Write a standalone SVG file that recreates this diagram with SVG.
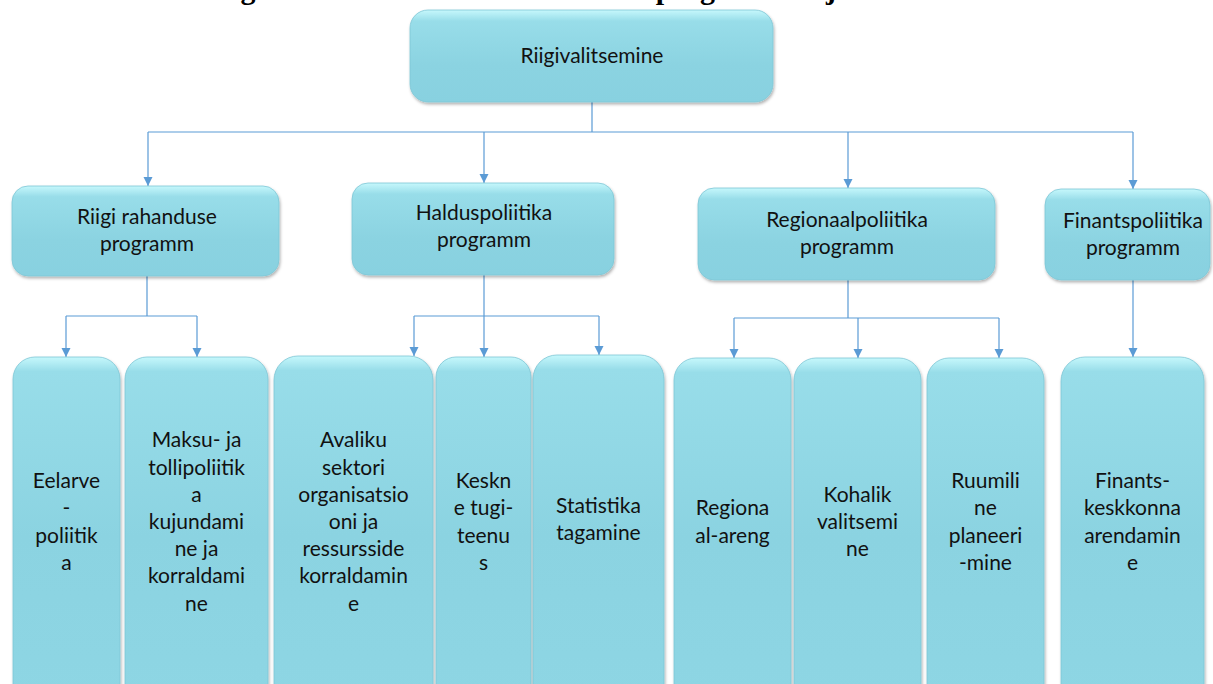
<svg xmlns="http://www.w3.org/2000/svg" width="1213" height="684" viewBox="0 0 1213 684">
<style>
  .box { stroke: #7fc7d6; stroke-width: 0.8; filter: url(#sh); }
  .short { fill: url(#gs); }
  .tall { fill: url(#gt); }
  .lbl { font-family: Lato, "Open Sans", "Liberation Sans", sans-serif; font-size: 21px; fill: #111; text-anchor: middle; }
  .title { font-family: "Liberation Serif", "Times New Roman", serif; font-size: 30px; font-weight: bold; fill: #000; }
  .con { fill: none; stroke: #5b9bd5; stroke-width: 1.2; }
</style>
<defs>
  <linearGradient id="gs" x1="0" y1="0" x2="0" y2="1">
    <stop offset="0" stop-color="#c6f8fc"/>
    <stop offset="0.12" stop-color="#98dde9"/>
    <stop offset="0.6" stop-color="#8bd3e1"/>
    <stop offset="1" stop-color="#88d1e0"/>
  </linearGradient>
  <linearGradient id="gt" x1="0" y1="0" x2="0" y2="1">
    <stop offset="0" stop-color="#c6f8fc"/>
    <stop offset="0.04" stop-color="#98dde9"/>
    <stop offset="0.5" stop-color="#8bd3e1"/>
    <stop offset="1" stop-color="#8ed6e4"/>
  </linearGradient>
  <filter id="sh" x="-10%" y="-10%" width="120%" height="130%">
    <feDropShadow dx="1" dy="2" stdDeviation="1.8" flood-color="#000" flood-opacity="0.3"/>
  </filter>
  <marker id="ah" markerUnits="userSpaceOnUse" markerWidth="10" markerHeight="10" refX="9" refY="4.5" orient="auto">
    <path d="M0,0 L9,4.5 L0,9 z" fill="#5b9bd5"/>
  </marker>
</defs>

<text class="title" x="975" y="-1" text-anchor="end">Joonis 1. Riigivalitsemise tulemusvaldkonna programmid ja meetmed</text>

<g id="connectors">
  <path class="con" d="M592,102 V132 M148,132 H1133"/>
  <path class="con" d="M148,132 V186" marker-end="url(#ah)"/>
  <path class="con" d="M484,132 V183" marker-end="url(#ah)"/>
  <path class="con" d="M848,132 V188" marker-end="url(#ah)"/>
  <path class="con" d="M1133,132 V189" marker-end="url(#ah)"/>

  <path class="con" d="M147,276 V316 M66,316 H197"/>
  <path class="con" d="M66,316 V357" marker-end="url(#ah)"/>
  <path class="con" d="M197,316 V357" marker-end="url(#ah)"/>

  <path class="con" d="M414,316 H599"/>
  <path class="con" d="M484,275 V357" marker-end="url(#ah)"/>
  <path class="con" d="M414,316 V356" marker-end="url(#ah)"/>
  <path class="con" d="M599,316 V355" marker-end="url(#ah)"/>

  <path class="con" d="M848,280 V318 M734,318 H999"/>
  <path class="con" d="M734,318 V358" marker-end="url(#ah)"/>
  <path class="con" d="M858,318 V358" marker-end="url(#ah)"/>
  <path class="con" d="M999,318 V358" marker-end="url(#ah)"/>

  <path class="con" d="M1133,280 V357" marker-end="url(#ah)"/>
</g>

<g id="n-riigivalitsemine">
  <rect class="box short" x="410" y="10" width="363" height="92" rx="18"/>
  <text class="lbl" x="592" y="63">Riigivalitsemine</text>
</g>

<g id="n-rahandus">
  <rect class="box short" x="12" y="186" width="267" height="90" rx="16"/>
  <text class="lbl" x="147" y="224">Riigi rahanduse<tspan x="147" dy="27.2">programm</tspan></text>
</g>
<g id="n-haldus">
  <rect class="box short" x="352" y="183" width="262" height="92" rx="16"/>
  <text class="lbl" x="484" y="220">Halduspoliitika<tspan x="484" dy="27.2">programm</tspan></text>
</g>
<g id="n-regionaal">
  <rect class="box short" x="698" y="188" width="297" height="92" rx="16"/>
  <text class="lbl" x="847" y="227">Regionaalpoliitika<tspan x="847" dy="27.2">programm</tspan></text>
</g>
<g id="n-finants">
  <rect class="box short" x="1045" y="189" width="165" height="91" rx="16"/>
  <text class="lbl" x="1133" y="228">Finantspoliitika<tspan x="1133" dy="27.2">programm</tspan></text>
</g>

<g id="n-eelarve">
  <rect class="box tall" x="13" y="357" width="107" height="360" rx="22"/>
  <text class="lbl" x="66.5" y="488.2">Eelarve<tspan x="66.5" dy="27.2">-</tspan><tspan x="66.5" dy="27.2">poliitik</tspan><tspan x="66.5" dy="27.2">a</tspan></text>
</g>
<g id="n-maksu">
  <rect class="box tall" x="125" y="357" width="143" height="360" rx="22"/>
  <text class="lbl" x="196.5" y="447.4">Maksu- ja<tspan x="196.5" dy="27.2">tollipoliitik</tspan><tspan x="196.5" dy="27.2">a</tspan><tspan x="196.5" dy="27.2">kujundami</tspan><tspan x="196.5" dy="27.2">ne ja</tspan><tspan x="196.5" dy="27.2">korraldami</tspan><tspan x="196.5" dy="27.2">ne</tspan></text>
</g>
<g id="n-avaliku">
  <rect class="box tall" x="274" y="356" width="159" height="360" rx="24"/>
  <text class="lbl" x="353.5" y="447.4">Avaliku<tspan x="353.5" dy="27.2">sektori</tspan><tspan x="353.5" dy="27.2">organisatsio</tspan><tspan x="353.5" dy="27.2">oni ja</tspan><tspan x="353.5" dy="27.2">ressursside</tspan><tspan x="353.5" dy="27.2">korraldamin</tspan><tspan x="353.5" dy="27.2">e</tspan></text>
</g>
<g id="n-keskne">
  <rect class="box tall" x="436" y="357" width="95" height="360" rx="20"/>
  <text class="lbl" x="483.5" y="488.2">Keskn<tspan x="483.5" dy="27.2">e tugi-</tspan><tspan x="483.5" dy="27.2">teenu</tspan><tspan x="483.5" dy="27.2">s</tspan></text>
</g>
<g id="n-statistika">
  <rect class="box tall" x="533" y="355" width="131" height="360" rx="24"/>
  <text class="lbl" x="598.5" y="513">Statistika<tspan x="598.5" dy="27.2">tagamine</tspan></text>
</g>
<g id="n-regionaalareng">
  <rect class="box tall" x="674" y="358" width="117" height="360" rx="22"/>
  <text class="lbl" x="732.5" y="515.4">Regiona<tspan x="732.5" dy="27.2">al-areng</tspan></text>
</g>
<g id="n-kohalik">
  <rect class="box tall" x="794" y="358" width="127" height="360" rx="22"/>
  <text class="lbl" x="857.5" y="501.8">Kohalik<tspan x="857.5" dy="27.2">valitsemi</tspan><tspan x="857.5" dy="27.2">ne</tspan></text>
</g>
<g id="n-ruumiline">
  <rect class="box tall" x="927" y="358" width="117" height="360" rx="22"/>
  <text class="lbl" x="985.5" y="488.2">Ruumili<tspan x="985.5" dy="27.2">ne</tspan><tspan x="985.5" dy="27.2">planeeri</tspan><tspan x="985.5" dy="27.2">-mine</tspan></text>
</g>
<g id="n-finantskeskkond">
  <rect class="box tall" x="1061" y="357" width="143" height="360" rx="24"/>
  <text class="lbl" x="1132.5" y="488.2">Finants-<tspan x="1132.5" dy="27.2">keskkonna</tspan><tspan x="1132.5" dy="27.2">arendamin</tspan><tspan x="1132.5" dy="27.2">e</tspan></text>
</g>
</svg>
